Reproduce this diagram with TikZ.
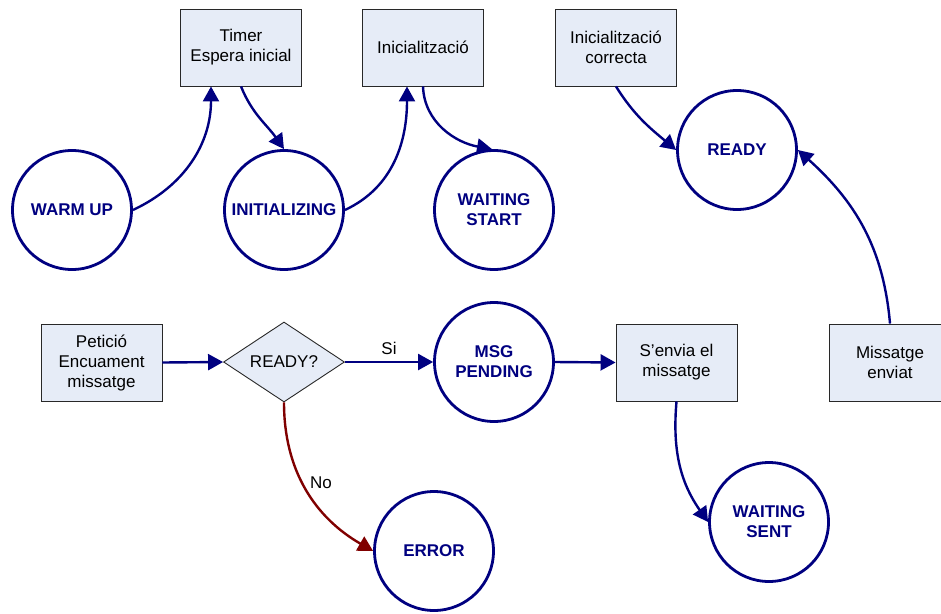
\documentclass[tikz,border=0pt]{standalone}
\usepackage{fontspec}
\setmainfont{Liberation Sans}
\usetikzlibrary{shapes.geometric,arrows.meta}
\definecolor{navy}{RGB}{0,0,128}
\definecolor{boxfill}{RGB}{230,236,247}
\definecolor{darkred}{RGB}{128,0,0}
\definecolor{boxline}{RGB}{40,40,40}
\begin{document}
\begin{tikzpicture}[x=1pt,y=1pt,
  state/.style={circle,draw=navy,line width=2.8pt,minimum size=119pt,inner sep=0pt,
    text=navy,font=\fontsize{17}{20}\selectfont\bfseries,align=center},
  evbox/.style={rectangle,draw=boxline,fill=boxfill,line width=0.9pt,minimum width=121pt,
    minimum height=77pt,inner sep=0pt,font=\fontsize{17}{20}\selectfont,align=center},
  decision/.style={diamond,draw=boxline,fill=boxfill,line width=0.9pt,aspect=1.5,inner sep=0pt,
    minimum width=121pt,minimum height=80pt,font=\fontsize{17}{20}\selectfont},
  arr/.style={draw=navy,line width=2.4pt,-{Triangle[length=15pt,width=16pt]}},
  redarr/.style={draw=darkred,line width=2.4pt,-{Triangle[length=15pt,width=16pt]}},
  lbl/.style={font=\fontsize{17}{20}\selectfont,inner sep=0pt}
]
\useasboundingbox (0,0) rectangle (941,-613);
% event boxes
\node[evbox] (timer) at (241,-47.5) {Timer\\Espera inicial};
\node[evbox] (inic) at (423,-47.5) {Inicialització};
\node[evbox] (inicok) at (616,-47.5) {Inicialització\\correcta};
\node[evbox] (peticio) at (101.5,-362.5) {Petició\\Encuament\\missatge};
\node[evbox] (envia) at (676.5,-362.5) {S’envia el\\missatge};
\node[evbox] (enviat) at (890,-362.5) {Missatge\\enviat};
\node[decision] (dec) at (284,-362) {READY?};
% states
\node[state] (warm) at (72,-210) {WARM UP};
\node[state] (init) at (284,-210) {INITIALIZING};
\node[state] (wstart) at (494,-210) {WAITING\\START};
\node[state] (ready) at (737,-150) {READY};
\node[state] (msg) at (494,-362) {MSG\\PENDING};
\node[state] (error) at (434,-551) {ERROR};
\node[state] (wsent) at (769,-522) {WAITING\\SENT};
% connectors
\draw[arr] (warm.east) to[out=25,in=-90] ([xshift=-30pt]timer.south);
\draw[arr] (timer.south) to[out=-68,in=125] (init.north);
\draw[arr] (init.east) to[out=25,in=-90] ([xshift=-16pt]inic.south);
\draw[arr] (inic.south) to[out=-88,in=170] ([xshift=-2pt]wstart.north);
\draw[arr] (inicok.south) to[out=-58,in=140] (ready.west);
\draw[arr] (enviat.north) to[out=95,in=-42] (ready.east);
\draw[arr] (peticio.east) -- (dec.west);
\draw[arr] (dec.east) -- (msg.west) node[lbl,pos=0.5,above=6pt] (si) {Si};
\draw[arr] (msg.east) -- (envia.west);
\draw[arr] (envia.south) to[out=-95,in=125] (wsent.west);
\draw[redarr] (dec.south) to[out=-90,in=150] (error.west);
\node[lbl] (no) at (321,-483) {No};
\end{tikzpicture}
\end{document}
